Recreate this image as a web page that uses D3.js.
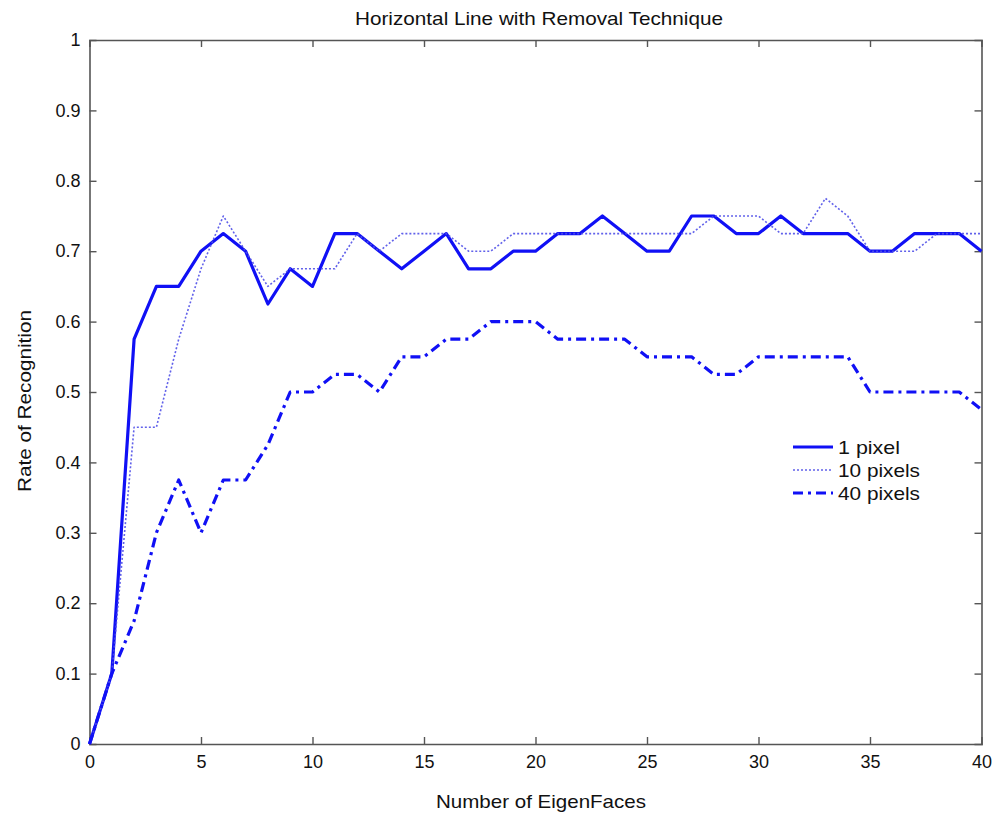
<!DOCTYPE html>
<html>
<head>
<meta charset="utf-8">
<script src="https://cdn.jsdelivr.net/npm/d3@7"></script>
<style>
  html, body { margin: 0; padding: 0; background: #fff; }
  svg { display: block; }
  text { font-family: "Liberation Sans", Arial, Helvetica, sans-serif; fill: #111; }
</style>
</head>
<body>
<svg id="chart" width="1000" height="814"></svg>
<script>
// Number of eigenfaces used (x axis)
const eigenFaces = d3.range(0, 41);

// Recognition rate for each removed-line width
const onePixel = [0, 0.1, 0.575, 0.65, 0.65, 0.7, 0.725, 0.7, 0.625, 0.675, 0.65,
  0.725, 0.725, 0.7, 0.675, 0.7, 0.725, 0.675, 0.675, 0.7, 0.7,
  0.725, 0.725, 0.75, 0.725, 0.7, 0.7, 0.75, 0.75, 0.725, 0.725,
  0.75, 0.725, 0.725, 0.725, 0.7, 0.7, 0.725, 0.725, 0.725, 0.7];

const tenPixels = [0, 0.1, 0.45, 0.45, 0.575, 0.675, 0.75, 0.7, 0.65, 0.675, 0.675,
  0.675, 0.725, 0.7, 0.725, 0.725, 0.725, 0.7, 0.7, 0.725, 0.725,
  0.725, 0.725, 0.725, 0.725, 0.725, 0.725, 0.725, 0.75, 0.75, 0.75,
  0.725, 0.725, 0.775, 0.75, 0.7, 0.7, 0.7, 0.725, 0.725, 0.725];

const fortyPixels = [0, 0.1, 0.175, 0.3, 0.375, 0.3, 0.375, 0.375, 0.425, 0.5, 0.5,
  0.525, 0.525, 0.5, 0.55, 0.55, 0.575, 0.575, 0.6, 0.6, 0.6,
  0.575, 0.575, 0.575, 0.575, 0.55, 0.55, 0.55, 0.525, 0.525, 0.55,
  0.55, 0.55, 0.55, 0.55, 0.5, 0.5, 0.5, 0.5, 0.5, 0.475];

const seriesNames = ["1 pixel", "10 pixels", "40 pixels"];
const xTicks = [0, 5, 10, 15, 20, 25, 30, 35, 40];
const yTicks = [0, 0.1, 0.2, 0.3, 0.4, 0.5, 0.6, 0.7, 0.8, 0.9, 1];

const titleText = "Horizontal Line with Removal Technique";
const xLabel = "Number of EigenFaces";
const yLabel = "Rate of Recognition";

// Plot frame
const frame = { left: 89.5, right: 981.5, top: 40, bottom: 744 };

const svg = d3.select("#chart");
const x = d3.scaleLinear().domain([0, 40]).range([frame.left, frame.right]);
const y = d3.scaleLinear().domain([0, 1]).range([frame.bottom, frame.top]);

const axisColor = "#555";
const tickLen = 7;
const fontStack = "'Liberation Sans', Arial, Helvetica, sans-serif";

// Axes on all four sides, ticks pointing inward
const fmtY = d => d === 0 ? "0" : (d === 1 ? "1" : d3.format(".1f")(d));

const gB = svg.append("g").attr("transform", `translate(0,${frame.bottom})`)
  .call(d3.axisBottom(x).tickValues(xTicks).tickSize(-tickLen).tickPadding(11).tickFormat(d3.format("d")));
const gT = svg.append("g").attr("transform", `translate(0,${frame.top})`)
  .call(d3.axisTop(x).tickValues(xTicks).tickSize(-tickLen).tickFormat(""));
const gL = svg.append("g").attr("transform", `translate(${frame.left},0)`)
  .call(d3.axisLeft(y).tickValues(yTicks).tickSize(-tickLen).tickPadding(9).tickFormat(fmtY));
const gR = svg.append("g").attr("transform", `translate(${frame.right},0)`)
  .call(d3.axisRight(y).tickValues(yTicks).tickSize(-tickLen).tickFormat(""));

[gB, gT, gL, gR].forEach(g => {
  g.select(".domain").attr("stroke", axisColor).attr("stroke-width", 1.6);
  g.selectAll(".tick line").attr("stroke", axisColor).attr("stroke-width", 1.4);
  g.selectAll(".tick text").attr("font-size", 18).attr("fill", "#111")
    .attr("font-family", fontStack);
});
// drop edge ticks that sit on the frame
gT.selectAll(".tick").filter(d => d === 0 || d === 40).select("line").remove();
gB.selectAll(".tick").filter(d => d === 0 || d === 40).select("line").remove();
gL.selectAll(".tick").filter(d => d === 0 || d === 1).select("line").remove();
gR.selectAll(".tick").filter(d => d === 0 || d === 1).select("line").remove();

// Series
const blue = "#1010f5";
const styles = [
  { data: onePixel, width: 3.2, dash: null, color: blue, opacity: 1 },
  { data: tenPixels, width: 1.6, dash: "2,2", color: "#5050e8", opacity: 0.9 },
  { data: fortyPixels, width: 3.2, dash: "10,5,3,5", color: blue, opacity: 1 }
];

const line = d3.line().x((d, i) => x(eigenFaces[i])).y(d => y(d));

styles.forEach(s => {
  svg.append("path")
    .datum(s.data)
    .attr("d", line)
    .attr("fill", "none")
    .attr("stroke", s.color)
    .attr("stroke-width", s.width)
    .attr("stroke-opacity", s.opacity)
    .attr("stroke-linejoin", "round")
    .attr("stroke-dasharray", s.dash);
});

// Legend
const legendWidths = [62, 82, 82];
const legend = svg.append("g").attr("transform", "translate(793,447)");
styles.forEach((s, i) => {
  const row = legend.append("g").attr("transform", `translate(0,${i * 23})`);
  row.append("line")
    .attr("x1", 0).attr("x2", 40).attr("y1", 0).attr("y2", 0)
    .attr("stroke", s.color).attr("stroke-width", s.width)
    .attr("stroke-opacity", s.opacity)
    .attr("stroke-dasharray", s.dash);
  row.append("text").attr("x", 45).attr("y", 7)
    .attr("font-size", 19)
    .attr("textLength", legendWidths[i]).attr("lengthAdjust", "spacingAndGlyphs")
    .text(seriesNames[i]);
});

// Title and axis labels
const midX = (frame.left + frame.right) / 2;
svg.append("text").attr("x", 539).attr("y", 25)
  .attr("text-anchor", "middle").attr("font-size", 19)
  .attr("textLength", 368).attr("lengthAdjust", "spacingAndGlyphs")
  .text(titleText);
svg.append("text").attr("x", 541).attr("y", 808)
  .attr("text-anchor", "middle").attr("font-size", 19)
  .attr("textLength", 210).attr("lengthAdjust", "spacingAndGlyphs")
  .text(xLabel);
svg.append("text")
  .attr("transform", `translate(31,401) rotate(-90)`)
  .attr("text-anchor", "middle").attr("font-size", 19)
  .attr("textLength", 182).attr("lengthAdjust", "spacingAndGlyphs")
  .text(yLabel);
</script>
</body>
</html>
